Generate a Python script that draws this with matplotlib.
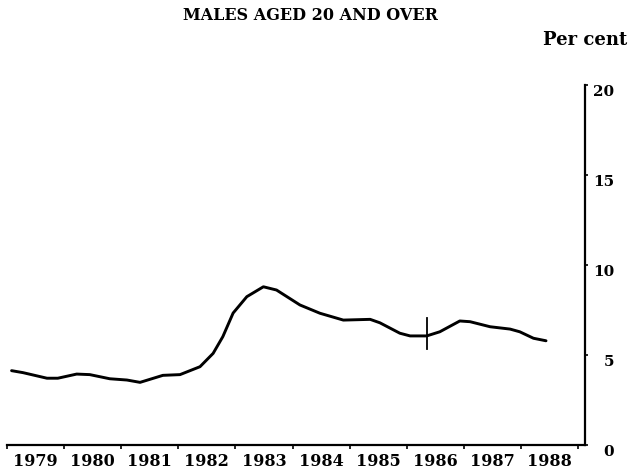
#!/usr/bin/env python3

import numpy as np
import matplotlib
matplotlib.use("Agg")
import matplotlib.pyplot as plt
import matplotlib.transforms as mtransforms

# Unemployment rate, males aged 20 and over (per cent)
year = [1979.08, 1979.28, 1979.70, 1979.89, 1980.22, 1980.45, 1980.80, 1981.10,
        1981.33, 1981.73, 1982.03, 1982.38, 1982.61, 1982.78, 1982.96, 1983.20,
        1983.49, 1983.72, 1984.13, 1984.48, 1984.89, 1985.36, 1985.53, 1985.88,
        1986.06, 1986.35, 1986.58, 1986.93, 1987.11, 1987.46, 1987.81, 1987.98,
        1988.22, 1988.44]
rate = [4.13, 4.02, 3.71, 3.71, 3.94, 3.91, 3.68, 3.61,
        3.48, 3.87, 3.91, 4.35, 5.09, 6.02, 7.33, 8.24,
        8.79, 8.61, 7.78, 7.32, 6.94, 6.98, 6.79, 6.21,
        6.06, 6.06, 6.29, 6.89, 6.85, 6.57, 6.44, 6.29,
        5.93, 5.79]

# series break marker
break_year = 1986.35
break_span = [5.32, 7.04]

year_labels = [str(y) for y in range(1979, 1989)]
yticks = [0, 5, 10, 15, 20]

font = "DejaVu Serif"
plt.rcParams['font.family'] = font
plt.rcParams['font.weight'] = 'bold'

fig = plt.figure(figsize=(6.32, 4.74), dpi=100)
ax = fig.add_axes([7/632, 1-445/474, (585-7)/632, (445-85)/474])

ax.plot(year, rate, color='black', lw=2.1, solid_capstyle='round',
        solid_joinstyle='round')
ax.plot([break_year, break_year], break_span, color='black', lw=1.3)

ax.set_xlim(1979, 1979 + 578/57.1)
ax.set_ylim(0, 20)

for s in ['top', 'left']:
    ax.spines[s].set_visible(False)
for s in ['bottom', 'right']:
    ax.spines[s].set_linewidth(1.6)

# x axis: ticks at year boundaries, labels centred in each year
ax.set_xticks(np.arange(1979, 1990))
ax.set_xticklabels([])
ax.set_xticks(np.arange(1979, 1989) + 0.5, minor=True)
ax.set_xticklabels(year_labels, minor=True, fontsize=11.5, fontweight='bold')
ax.tick_params(axis='x', which='major', direction='out', length=3, width=1.2)
ax.tick_params(axis='x', which='minor', length=0, pad=6)

# y axis on the right, labels right-aligned
ax.yaxis.tick_right()
ax.set_yticks(yticks)
ax.set_yticklabels([str(t) for t in yticks], fontsize=11, fontweight='bold',
                   ha='right')
ax.tick_params(axis='y', direction='out', length=2, width=1.2, pad=19)
off = mtransforms.ScaledTranslation(0, -6/100, fig.dpi_scale_trans)
for lab in ax.get_yticklabels():
    lab.set_transform(lab.get_transform() + off)

fig.text(310/632, 1-15/474, "MALES AGED 20 AND OVER", ha='center', va='center',
         fontsize=11.5, fontweight='bold')
fig.text(627/632, 1-40/474, "Per cent", ha='right', va='center',
         fontsize=13, fontweight='bold')

fig.savefig("out.png", dpi=100)
